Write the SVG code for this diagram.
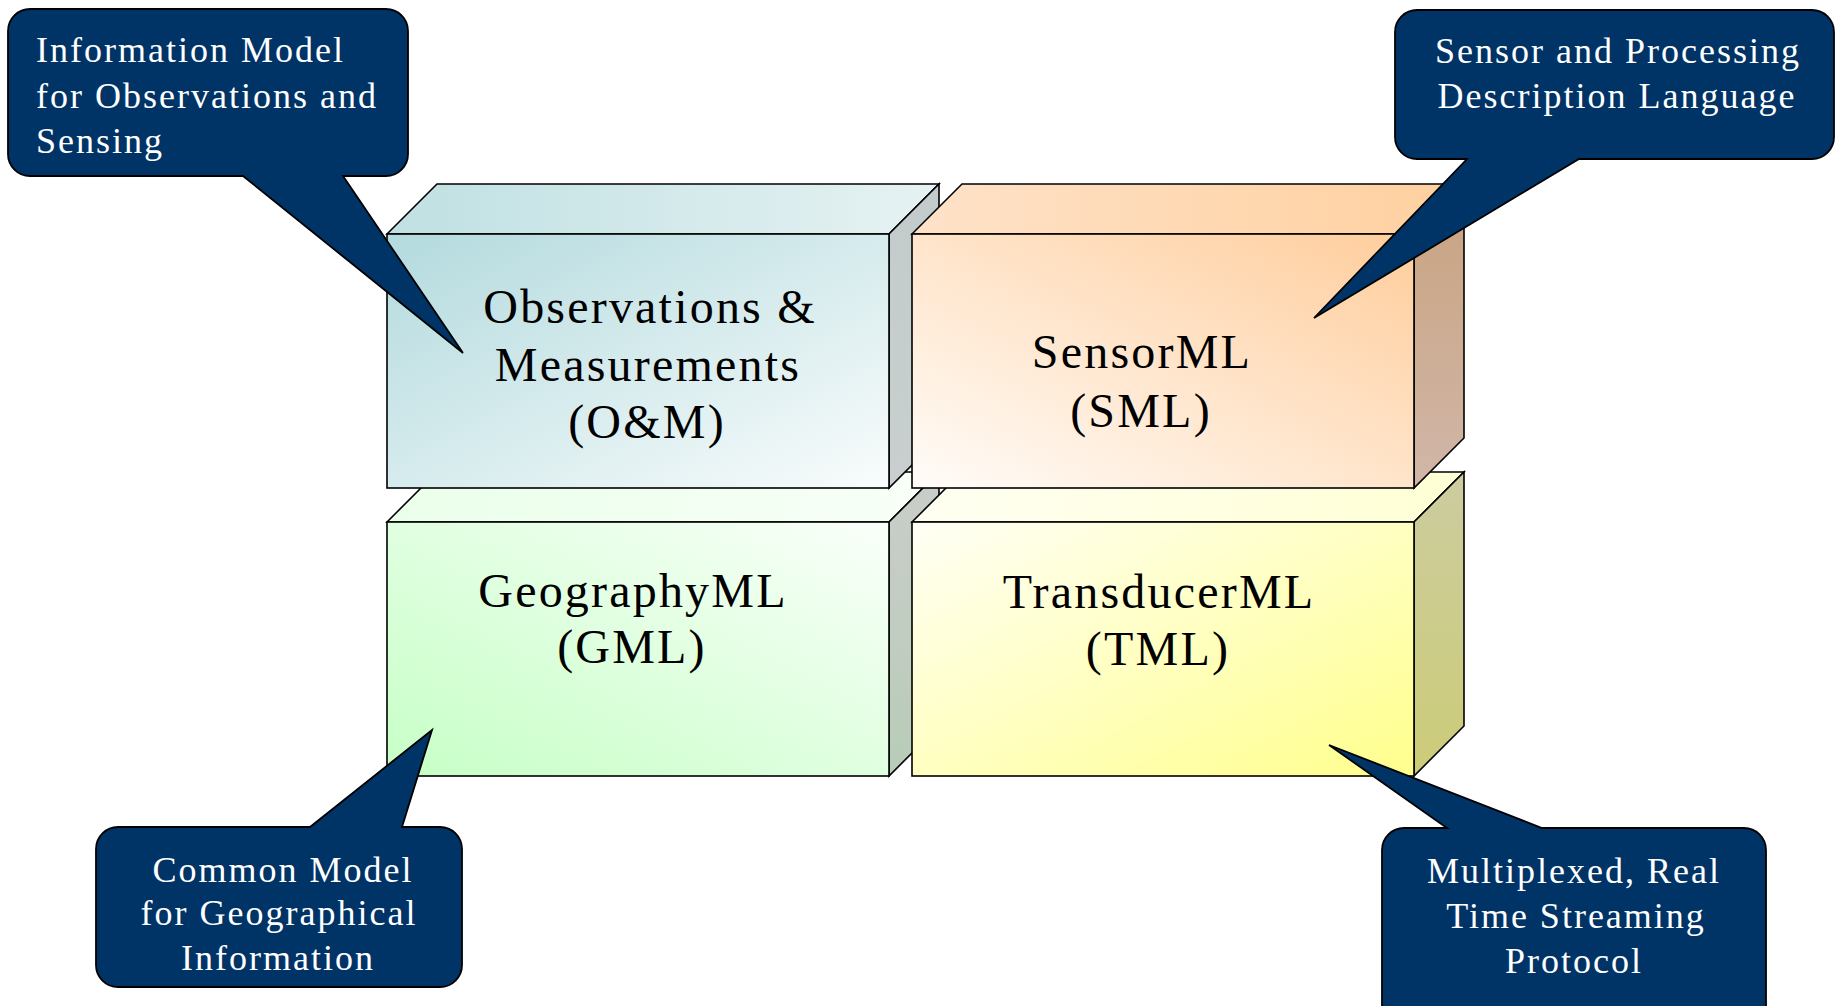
<svg xmlns="http://www.w3.org/2000/svg" width="1835" height="1006" viewBox="0 0 1835 1006">
  <style>
    .edge { stroke: #000; stroke-width: 1.6; stroke-linejoin: miter; }
    .label { font-family: "Liberation Serif", "Times New Roman", serif; font-size: 48px; letter-spacing: 2.2px; fill: #000; text-anchor: middle; }
    .bubble { fill: #003366; stroke: #000; stroke-width: 1.8; stroke-linejoin: miter; }
    .note { font-family: "Liberation Serif", "Times New Roman", serif; font-size: 36px; letter-spacing: 2px; fill: #fff; }
    .mid { text-anchor: middle; }
  </style>
  <defs>
    <!-- Observations & Measurements: teal -->
    <linearGradient id="omFront" x1="0" y1="0" x2="1" y2="1">
      <stop offset="0" stop-color="#b3dade"/>
      <stop offset="1" stop-color="#f9fcfc"/>
    </linearGradient>
    <linearGradient id="omTop" x1="0" y1="0" x2="1" y2="0">
      <stop offset="0" stop-color="#bfe0e2"/>
      <stop offset="1" stop-color="#e6f2f3"/>
    </linearGradient>
    <linearGradient id="omSide" x1="0" y1="0" x2="0" y2="1">
      <stop offset="0" stop-color="#c2cbcb"/>
      <stop offset="1" stop-color="#c9cfcf"/>
    </linearGradient>
    <!-- SensorML: peach -->
    <linearGradient id="smlFront" x1="0" y1="1" x2="1" y2="0">
      <stop offset="0" stop-color="#fffcf9"/>
      <stop offset="1" stop-color="#ffcd9c"/>
    </linearGradient>
    <linearGradient id="smlTop" x1="0" y1="0" x2="1" y2="0">
      <stop offset="0" stop-color="#fee2c8"/>
      <stop offset="1" stop-color="#ffd09f"/>
    </linearGradient>
    <linearGradient id="smlSide" x1="0" y1="0" x2="0" y2="1">
      <stop offset="0" stop-color="#c8a37f"/>
      <stop offset="1" stop-color="#d1b6a8"/>
    </linearGradient>
    <!-- GeographyML: green -->
    <linearGradient id="gmlFront" x1="0" y1="1" x2="1" y2="0">
      <stop offset="0" stop-color="#c6ffc6"/>
      <stop offset="1" stop-color="#fafffa"/>
    </linearGradient>
    <linearGradient id="gmlTop" x1="0" y1="0" x2="1" y2="0">
      <stop offset="0" stop-color="#eaffea"/>
      <stop offset="1" stop-color="#f8fff8"/>
    </linearGradient>
    <linearGradient id="gmlSide" x1="0" y1="0" x2="0" y2="1">
      <stop offset="0" stop-color="#cacdca"/>
      <stop offset="1" stop-color="#b8ccb8"/>
    </linearGradient>
    <!-- TransducerML: yellow -->
    <linearGradient id="tmlFront" x1="0" y1="0" x2="1" y2="1">
      <stop offset="0" stop-color="#fffff6"/>
      <stop offset="1" stop-color="#ffff8c"/>
    </linearGradient>
    <linearGradient id="tmlTop" x1="0" y1="0" x2="1" y2="0">
      <stop offset="0" stop-color="#fffff2"/>
      <stop offset="1" stop-color="#ffffd4"/>
    </linearGradient>
    <linearGradient id="tmlSide" x1="0" y1="0" x2="0" y2="1">
      <stop offset="0" stop-color="#cccca0"/>
      <stop offset="1" stop-color="#cccc78"/>
    </linearGradient>
  </defs>

  <rect width="1835" height="1006" fill="#fff"/>

  <!-- bottom row first so the upper blocks overlap it -->
  <g id="gml">
    <polygon class="edge" fill="url(#gmlTop)" points="387,522 437,472 939,472 889,522"/>
    <polygon class="edge" fill="url(#gmlSide)" points="889,522 939,472 939,726 889,776"/>
    <rect class="edge" fill="url(#gmlFront)" x="387" y="522" width="502" height="254"/>
    <text class="label" x="633" y="607">GeographyML</text>
    <text class="label" x="632" y="663">(GML)</text>
  </g>

  <g id="tml">
    <polygon class="edge" fill="url(#tmlTop)" points="912,522 962,472 1464,472 1414,522"/>
    <polygon class="edge" fill="url(#tmlSide)" points="1414,522 1464,472 1464,726 1414,776"/>
    <rect class="edge" fill="url(#tmlFront)" x="912" y="522" width="502" height="254"/>
    <text class="label" x="1159" y="608">TransducerML</text>
    <text class="label" x="1158" y="665">(TML)</text>
  </g>

  <g id="om">
    <polygon class="edge" fill="url(#omTop)" points="387,234 437,184 939,184 889,234"/>
    <polygon class="edge" fill="url(#omSide)" points="889,234 939,184 939,438 889,488"/>
    <rect class="edge" fill="url(#omFront)" x="387" y="234" width="502" height="254"/>
    <text class="label" x="650" y="323">Observations &amp;</text>
    <text class="label" x="648" y="381">Measurements</text>
    <text class="label" x="647" y="438">(O&amp;M)</text>
  </g>

  <g id="sml">
    <polygon class="edge" fill="url(#smlTop)" points="912,234 962,184 1464,184 1414,234"/>
    <polygon class="edge" fill="url(#smlSide)" points="1414,234 1464,184 1464,438 1414,488"/>
    <rect class="edge" fill="url(#smlFront)" x="912" y="234" width="502" height="254"/>
    <text class="label" x="1142" y="368">SensorML</text>
    <text class="label" x="1141" y="427">(SML)</text>
  </g>

  <!-- speech-bubble notes, tails pointing into their blocks -->
  <g id="callouts">
    <g id="note-om">
      <path class="bubble" d="M30,9 H386 A22,22 0 0 1 408,31 V154 A22,22 0 0 1 386,176 H343 L463,353 L243,176 H30 A22,22 0 0 1 8,154 V31 A22,22 0 0 1 30,9 Z"/>
      <text class="note" x="36" y="62">Information Model</text>
      <text class="note" x="36" y="108">for Observations and</text>
      <text class="note" x="36" y="153">Sensing</text>
    </g>
    <g id="note-sml">
      <path class="bubble" d="M1417,10 H1812 A22,22 0 0 1 1834,32 V137 A22,22 0 0 1 1812,159 H1579 L1314,318 L1467,159 H1417 A22,22 0 0 1 1395,137 V32 A22,22 0 0 1 1417,10 Z"/>
      <text class="note mid" x="1618" y="63">Sensor and Processing</text>
      <text class="note mid" x="1617" y="108">Description Language</text>
    </g>
    <g id="note-gml">
      <path class="bubble" d="M118,827 H310 L432,730 L402,827 H440 A22,22 0 0 1 462,849 V965 A22,22 0 0 1 440,987 H118 A22,22 0 0 1 96,965 V849 A22,22 0 0 1 118,827 Z"/>
      <text class="note mid" x="283" y="882">Common Model</text>
      <text class="note mid" x="279" y="925">for Geographical</text>
      <text class="note mid" x="278" y="970">Information</text>
    </g>
    <g id="note-tml">
      <path class="bubble" d="M1404,828 H1447 L1329,745 L1542,828 H1744 A22,22 0 0 1 1766,850 V1030 H1382 V850 A22,22 0 0 1 1404,828 Z"/>
      <text class="note mid" x="1574" y="883">Multiplexed, Real</text>
      <text class="note mid" x="1576" y="928">Time Streaming</text>
      <text class="note mid" x="1574" y="973">Protocol</text>
    </g>
  </g>
</svg>
